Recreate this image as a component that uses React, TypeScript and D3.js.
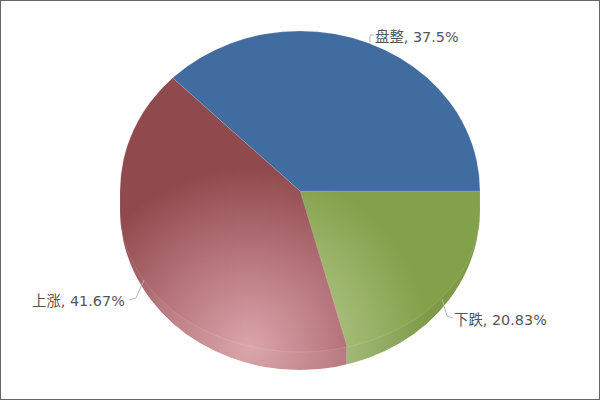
import React from "react";
import * as d3 from "d3";

const categories = ["下跌", "上涨", "盘整"];
const values = [20.83, 41.67, 37.5];
const labels = ["下跌, 20.83%", "上涨, 41.67%", "盘整, 37.5%"];
const faceStops = [
  ["#bed29c", "#a3bb75", "#83a04a"],
  ["#dba5ac", "#b5737a", "#904a4d"],
  ["#416ca0", "#416ca0", "#416ca0"],
];
const rimStops = [
  ["#b6ca90", "#a2ba78", "#7f9a49"],
  ["#d9a6ac", "#b97a80", "#894549"],
  ["#3c6596", "#3c6596", "#3c6596"],
];
const labelPos: [number, number][] = [[454, 325], [32, 306], [375, 42]];
const leaders = ["M442,299L447,316L453,318", "M144,280L136,298L129,300", "M370,42L370,35L374,35"];

const W = 600, H = 400, cx = 300, cy = 191, rx = 180, ry = 160;
const lowCy = 210, faceLowRy = 142, outerLowRy = 160;

const pie = d3.pie<number>().sort(null).startAngle(Math.PI / 2).endAngle(Math.PI / 2 + 2 * Math.PI);
const arcs = pie(values);
// wedges reach past the shape and are clipped to it
const arcGen = d3.arc<any>().innerRadius(0).outerRadius(rx * 1.5);

const shape = (lowRy: number) =>
  `M${cx - rx},${cy}A${rx},${ry} 0 0 1 ${cx + rx},${cy}L${cx + rx},${lowCy}A${rx},${lowRy} 0 0 1 ${cx - rx},${lowCy}Z`;

const splitX = cx + rx * Math.sin(arcs[0].endAngle);
const wedgeTransform = `translate(${cx},${cy}) scale(1,${ry / rx})`;
const inverseTransform = `scale(1,${rx / ry}) translate(${-cx},${-cy})`;

export default function App() {
  const grad = (id: string, stops: string[], tf?: string) => (
    <radialGradient key={id} id={id} gradientUnits="userSpaceOnUse" cx={250} cy={348} r={180} gradientTransform={tf}>
      <stop offset="0" stopColor={stops[0]} />
      <stop offset="0.53" stopColor={stops[1]} />
      <stop offset="1" stopColor={stops[2]} />
    </radialGradient>
  );
  return (
    <svg width={W} height={H} style={{ position: "absolute", left: 0, top: 0, background: "#fff" }}
      fontFamily="'DejaVu Sans', 'Noto Sans CJK SC', sans-serif">
      <defs>
        {faceStops.map((s, i) => grad("f" + i, s, inverseTransform))}
        {rimStops.map((s, i) => grad("r" + i, s))}
        <clipPath id="outer"><path d={shape(outerLowRy)} /></clipPath>
        <clipPath id="face"><path d={shape(faceLowRy)} /></clipPath>
      </defs>
      <rect x={0.5} y={0.5} width={W - 1} height={H - 1} fill="#fff" stroke="#666" />
      <g clipPath="url(#outer)">
        <rect x={splitX} y={cy} width={W - splitX} height={H - cy} fill="url(#r0)" />
        <rect x={0} y={cy} width={splitX} height={H - cy} fill="url(#r1)" />
      </g>
      <g clipPath="url(#face)">
        {arcs.map((d, i) => (
          <path key={categories[i]}
            transform={wedgeTransform}
            d={arcGen(d) as string}
            fill={`url(#f${i})`} stroke="#fff" strokeOpacity={0.2} strokeWidth={0.6} />
        ))}
      </g>
      <path d={shape(faceLowRy)} fill="none" stroke="#fff" strokeOpacity={0.12} strokeWidth={1} />
      {leaders.map((d, i) => (
        <path key={"l" + i} d={d} fill="none" stroke="#b5b5b5" strokeWidth={1} />
      ))}
      {labels.map((t, i) => (
        <text key={t} x={labelPos[i][0]} y={labelPos[i][1]} fontSize={14.4} fill="#555">{t}</text>
      ))}
    </svg>
  );
}
